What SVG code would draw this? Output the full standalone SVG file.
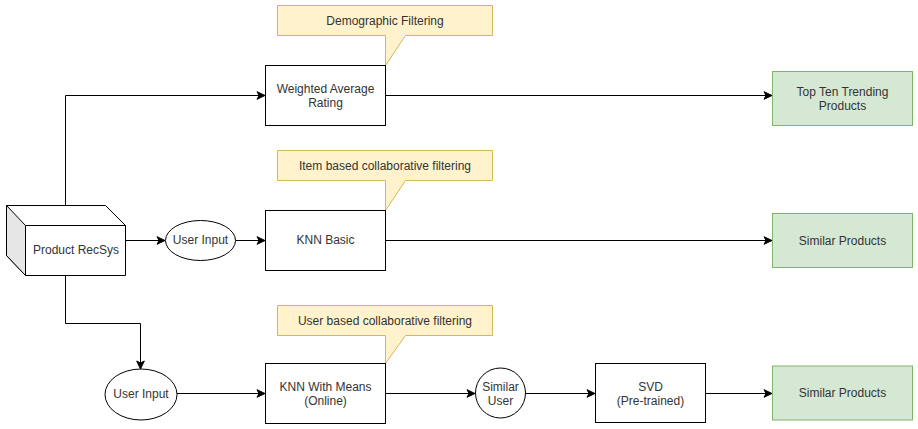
<svg xmlns="http://www.w3.org/2000/svg" width="918" height="429" viewBox="0 0 918 429">
<defs>
<marker id="arr" markerUnits="userSpaceOnUse" markerWidth="10" markerHeight="10" viewBox="0 0 10 10" refX="9" refY="5" orient="auto">
<path d="M1,1.2 L9,5 L1,8.8 L3,5 Z" fill="#000" stroke="#000" stroke-width="1"/>
</marker>
</defs>
<style>
text{font-family:"Liberation Sans",Arial,Helvetica,sans-serif;font-size:12px;fill:#333;text-anchor:middle;dominant-baseline:central}
.box{fill:#fff;stroke:#000;stroke-width:1}
.green{fill:#d5e8d4;stroke:#82b366;stroke-width:1}
.note{fill:#fff2cc;stroke:#d6b656;stroke-width:1}
.edge{fill:none;stroke:#000;stroke-width:1;marker-end:url(#arr)}
</style>
<rect width="918" height="429" fill="#fff"/>
<g id="connectors">
<path class="edge" d="M65.5,205 V95.5 H265"/>
<path class="edge" d="M126,240.5 H165"/>
<path class="edge" d="M236,240.5 H265"/>
<path class="edge" d="M65.5,275 V323.5 H140.5 V369"/>
<path class="edge" d="M177,393.5 H265"/>
<path class="edge" d="M385,95.5 H772"/>
<path class="edge" d="M385,240.5 H772"/>
<path class="edge" d="M385,393.5 H475"/>
<path class="edge" d="M526,393.5 H595"/>
<path class="edge" d="M705,393.5 H772"/>
</g>
<g id="product-recsys">
<path d="M6.5,205.5 H105.5 L125.5,225.5 V275.5 H25.5 L6.5,255.5 Z" fill="#fff" stroke="#000"/>
<path d="M6.5,205.5 L25.5,225.5 V275.5 L6.5,255.5 Z" fill="#e6e6e6" stroke="#000"/>
<path d="M25.5,225.5 H125.5" fill="none" stroke="#000"/>
<text x="76" y="250">Product RecSys</text>
</g>
<g id="user-input-1">
<ellipse cx="200.5" cy="240.5" rx="35" ry="20" class="box"/>
<text x="200.5" y="240">User Input</text>
</g>
<g id="user-input-2">
<ellipse cx="141" cy="394.5" rx="36" ry="25.5" class="box"/>
<text x="141" y="394">User Input</text>
</g>
<g id="note-demographic">
<path d="M277.5,5.5 H492.5 V35.5 H405.5 L385.5,65.5 V35.5 H277.5 Z" class="note"/>
<text x="385" y="20.5">Demographic Filtering</text>
</g>
<g id="note-item">
<path d="M277.5,150.5 H492.5 V180.5 H405.5 L385.5,210.5 V180.5 H277.5 Z" class="note"/>
<text x="385" y="165.5">Item based collaborative filtering</text>
</g>
<g id="note-user">
<path d="M277.5,305.5 H492.5 V335.5 H405.5 L385.5,363.5 V335.5 H277.5 Z" class="note"/>
<text x="385" y="320.5">User based collaborative filtering</text>
</g>
<g id="weighted-average">
<rect x="265.5" y="65.5" width="120" height="60" class="box"/>
<text x="325.5" y="88.5">Weighted Average</text>
<text x="325.5" y="102.5">Rating</text>
</g>
<g id="knn-basic">
<rect x="265.5" y="210.5" width="120" height="60" class="box"/>
<text x="325.5" y="240">KNN Basic</text>
</g>
<g id="knn-with-means">
<rect x="265.5" y="363.5" width="120" height="60" class="box"/>
<text x="325.5" y="386.5">KNN With Means</text>
<text x="325.5" y="400.5">(Online)</text>
</g>
<g id="similar-user">
<circle cx="500.5" cy="393" r="25" class="box"/>
<text x="500.5" y="386.5">Similar</text>
<text x="500.5" y="400.5">User</text>
</g>
<g id="svd">
<rect x="595.5" y="363.5" width="110" height="59" class="box"/>
<text x="650.5" y="386.5">SVD</text>
<text x="650.5" y="400.5">(Pre-trained)</text>
</g>
<g id="top-ten">
<rect x="772.5" y="71.5" width="140" height="54" class="green"/>
<text x="842.5" y="91.5">Top Ten Trending</text>
<text x="842.5" y="105.5">Products</text>
</g>
<g id="similar-products-1">
<rect x="772.5" y="213.5" width="140" height="54" class="green"/>
<text x="842.5" y="240.5">Similar Products</text>
</g>
<g id="similar-products-2">
<rect x="772.5" y="366" width="140" height="54" class="green"/>
<text x="842.5" y="393">Similar Products</text>
</g>
</svg>
